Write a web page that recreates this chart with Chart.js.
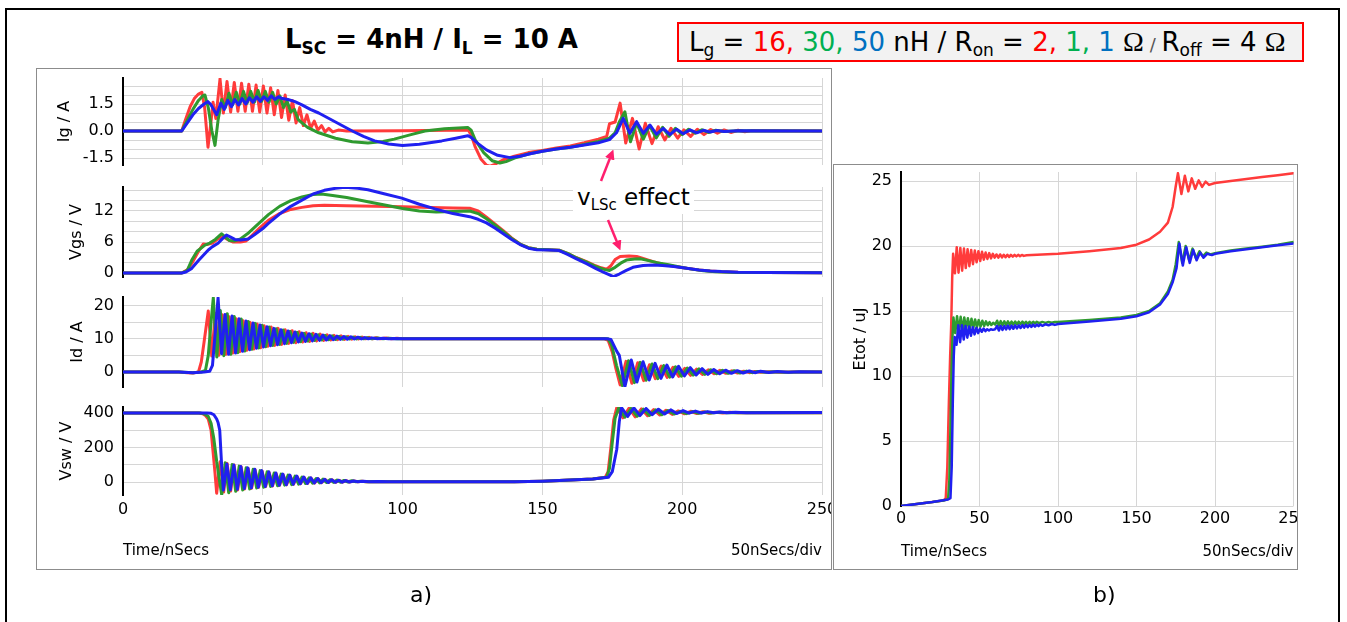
<!DOCTYPE html>
<html>
<head>
<meta charset="utf-8">
<script src="https://cdn.jsdelivr.net/npm/chart.js@4.4.1/dist/chart.umd.min.js"></script>
<style>
  body { margin: 0; background: #fff; width: 1347px; height: 622px; overflow: hidden; position: relative;
         font-family: 'DejaVu Sans', sans-serif; color: #000; }
  .abs { position: absolute; }
  #frame { left: 5px; top: 8px; width: 1331px; height: 640px; border: 2px solid #000; }
  .panel { position: absolute; border: 1px solid #8c8c8c; overflow: hidden; background: #fff; }
  #panelA { left: 36px; top: 68px; width: 794px; height: 500px; }
  #panelB { left: 833px; top: 164px; width: 463px; height: 404px; }
  canvas { position: absolute; }
  #title { left: 285px; top: 24px; font: bold 26px 'DejaVu Sans', sans-serif; white-space: nowrap; }
  #title .sub { font-size: 17px; position: relative; top: 6px; }
  #legend { left: 677px; top: 22px; width: 613px; height: 36px; border: 2px solid #ff0000; background: #f2f2f2;
            font: 26px 'DejaVu Sans', sans-serif; white-space: nowrap; line-height: 36px; padding-left: 10px; box-sizing: content-box; }
  #legend .sub { font-size: 17px; position: relative; top: 5px; }
  #legend .om { font-family: 'Liberation Serif', serif; font-size: 28px; }
  #legend .sl { font-size: 18px; color: #555; }
  .r { color: #ff0000; } .g { color: #00b050; } .b { color: #0070c0; }
  #vlsc { left: 573px; top: 183px; padding: 0 4px; background: #fff; font: 23px 'DejaVu Sans', sans-serif; white-space: nowrap; line-height: 28px; }
  #vlsc .sub { font-size: 15px; position: relative; top: 5px; }
  .plab { font: 22px 'DejaVu Sans', sans-serif; }
</style>
</head>
<body>
<div id="frame" class="abs"></div>
<div id="title" class="abs">L<span class="sub">SC</span> = 4nH / I<span class="sub">L</span> = 10 A</div>
<div id="legend" class="abs">L<span class="sub">g</span> = <span class="r">16,</span> <span class="g">30,</span> <span class="b">50</span> nH / R<span class="sub">on</span> = <span class="r">2,</span> <span class="g">1,</span> <span class="b">1</span> <span class="om">Ω</span><span class="sl"> / </span>R<span class="sub">off</span> = 4 <span class="om">Ω</span></div>
<div id="panelA" class="panel"></div>
<div id="panelB" class="panel"></div>
<div id="vlsc" class="abs">v<span class="sub">LSc</span> effect</div>
<svg class="abs" style="left:0;top:0" width="1347" height="622">
  <defs>
    <marker id="ah" markerWidth="4" markerHeight="4" refX="2.5" refY="2" orient="auto" markerUnits="strokeWidth">
      <path d="M0,0 L4,2 L0,4 z" fill="#ff1f6e"/>
    </marker>
  </defs>
  <line x1="601" y1="181" x2="612" y2="153" stroke="#ff1f6e" stroke-width="2.5" marker-end="url(#ah)"/>
  <line x1="608" y1="220" x2="619" y2="247" stroke="#ff1f6e" stroke-width="2.5" marker-end="url(#ah)"/>
</svg>
<div class="abs plab" style="left:410px;top:582px;">a)</div>
<div class="abs plab" style="left:1093px;top:582px;">b)</div>

<script>
// ---- time axis (ns) ----
const timeTicks = [0, 50, 100, 150, 200, 250];

// ---- gate current Ig / A : [t, value] ----
const igRed = [[0,0],[21,0],[22.5,0.7],[24,1.35],[25.5,1.8],[27,2.05],[28.2,2.15],[29.2,1.3],[30.4,-0.9],[31.4,0.4],[32.2,1.6],[33.2,0.7],[34.7,2.9],
  [35.9,1.0],[37.2,2.75],[38.5,1.05],[39.8,2.7],[41.1,1.1],[42.4,2.65],[43.7,1.1],[45,2.6],[46.3,1.1],[47.6,2.55],[48.9,1.05],[50.2,2.5],[51.5,1.0],
  [52.8,2.4],[54.1,0.9],[55.4,2.25],[56.7,0.75],[58,2.0],[59.3,0.6],[60.6,1.7],[61.9,0.45],[63.2,1.3],[64.5,0.3],[65.8,0.9],[67.1,0.15],[68.4,0.55],
  [69.7,0.05],[71,0.3],[72.3,-0.05],[73.6,0.15],[75,-0.05],[77,0.05],[80,0.0],[100,0.02],[123.5,0.05],
  [124.5,-0.2],[126,-0.9],[128,-1.55],[130,-1.9],[131.3,-1.95],[133,-1.85],[136,-1.6],[140,-1.4],[145,-1.2],[150,-1.08],[155,-0.95],[160,-0.83],
  [165,-0.65],[170,-0.45],[173,-0.3],[174,0.4],[176,0.5],[177.8,1.55],[179.8,-0.67],[182.2,0.7],[184.6,-1.0],[186.8,0.43],[189.2,-0.7],[191.4,0.24],
  [193.8,-0.5],[196,0.15],[198.4,-0.4],[200.6,0.06],[203,-0.3],[205.4,0.1],[207.8,-0.2],[210.2,0.08],[212.6,-0.12],[215,0.06],[217.4,-0.08],
  [220,0.04],[222.4,-0.04],[225,0.02],[250,0]];
const igGreen = [[0,0],[21,0],[23,0.6],[25,1.2],[27,1.7],[28.5,1.95],[29.3,2.0],[30.5,1.3],[31.8,0.0],[32.9,-0.8],[34,0.6],[35.3,1.75],[36.6,1.3],
  [37.9,2.1],[39.2,1.45],[40.5,2.15],[41.8,1.5],[43.1,2.2],[44.4,1.55],[45.7,2.2],[47,1.6],[48.3,2.25],[49.6,1.65],[50.9,2.2],[52.2,1.6],[53.5,2.15],
  [54.8,1.5],[56.1,1.95],[57.4,1.3],[58.7,1.65],[60,1.05],[61.3,1.2],[62.6,0.65],[64,0.45],[66,0.2],[70,-0.1],[76,-0.4],[82,-0.6],[87.6,-0.67],
  [93,-0.58],[97,-0.45],[103,-0.2],[108,0.0],[115,0.12],[123.3,0.2],
  [124.5,0.05],[126,-0.5],[129,-1.2],[132,-1.65],[134.8,-1.78],[137,-1.7],[140,-1.5],[145,-1.28],[150,-1.12],[155,-1.0],[160,-0.9],[165,-0.75],
  [170,-0.58],[174,-0.4],[176,-0.1],[177.5,0.5],[179.5,1.07],[181.5,-0.6],[183.7,0.45],[186.1,-0.45],[188.3,0.3],[190.7,-0.38],[193,0.2],
  [195.3,-0.3],[197.6,0.15],[200,-0.2],[202.3,0.1],[204.7,-0.12],[207,0.07],[209.4,-0.08],[212,0.04],[215,-0.03],[220,0.02],[250,0]];
const igBlue = [[0,0],[21,0],[23,0.45],[25,0.9],[27,1.25],[29,1.5],[30.4,1.63],[31.5,1.45],[33.5,0.9],[35,1.55],[36.2,1.2],[37.5,1.7],[38.8,1.35],
  [40,1.75],[41.3,1.45],[42.6,1.8],[43.9,1.5],[45.2,1.85],[46.5,1.6],[47.8,1.9],[49.1,1.65],[50.4,1.9],[51.7,1.7],[53,1.95],[54.3,1.75],[55.6,1.9],
  [57,1.8],[59,1.75],[61.5,1.63],[64,1.45],[67,1.2],[70,1.0],[73,0.75],[76,0.5],[79,0.25],[82,0.0],[86,-0.3],[90,-0.55],[95,-0.72],[100,-0.8],
  [106,-0.74],[114,-0.55],[119,-0.4],[123.3,-0.26],
  [124.5,-0.35],[127,-0.7],[130,-1.05],[134,-1.35],[138.4,-1.48],[142,-1.4],[146,-1.25],[150,-1.12],[155,-1.0],[160,-0.9],[165,-0.78],[170,-0.65],
  [174,-0.48],[176.5,-0.1],[178.9,0.7],[181.3,-0.13],[183.7,0.52],[186.1,-0.13],[188.5,0.33],[190.8,-0.18],[193.2,0.15],[195.6,-0.2],[198,0.1],
  [200.4,-0.15],[202.8,0.06],[205.2,-0.1],[207.6,0.04],[210,-0.06],[212.4,0.03],[215,-0.03],[220,0.01],[250,0]];

// ---- gate-source voltage Vgs / V ----
const vgsRed = [[0,0],[21,0],[23,0.6],[25,2.2],[27,4.2],[28.7,5.6],[30,5.5],[32,5.8],[34,6.6],[35.3,7.0],[36.5,6.8],[38,6.3],[39.4,6.0],[42,6.0],
  [44,6.2],[46,7.2],[49,8.8],[52,10.2],[56,11.5],[60,12.3],[64,12.7],[68,13.0],[72,13.1],[80,13.0],[90,12.9],[100,12.8],[110,12.7],[118,12.6],
  [124,12.55],[127,12.0],[130,10.8],[133,9.5],[136,8.2],[139,6.8],[142,5.6],[145,4.9],[148,4.6],[152,4.5],[156,4.4],[159,3.8],[162,3.0],
  [165.8,2.2],[169,1.4],[171,1.0],[173,0.75],[174.5,1.4],[176,2.6],[177.8,3.2],[181,3.3],[183.7,3.2],[186,2.8],[189.6,2.2],[193,1.7],[197,1.3],
  [201.6,0.9],[206,0.6],[210,0.4],[214,0.26],[220,0.15],[230,0.1],[250,0.05]];
const vgsGreen = [[0,0],[21,0],[23,0.5],[24.6,2.5],[26.5,4.2],[29.3,5.4],[31,5.8],[33,6.5],[35.3,7.6],[36.5,7.0],[38,6.3],[40,6.2],[42,6.6],
  [45,7.8],[48,9.3],[52,11.3],[56,12.9],[60,14.0],[64,14.7],[68,15.2],[71,15.3],[75,15.0],[80,14.6],[87.6,13.8],[95,13.0],[100,12.5],[106,12.0],
  [112,11.8],[118,11.9],[124,12.0],[127,11.5],[130,10.5],[133,9.3],[136,8.0],[139,6.7],[142,5.6],[145,4.9],[148,4.6],[152,4.5],[156,4.4],
  [159,3.8],[162,3.0],[165.8,2.1],[169,1.3],[172,0.7],[174,0.5],[176,1.1],[178,1.9],[180,2.5],[183,2.7],[185,2.75],[188,2.4],[191,2.0],
  [195.6,1.55],[200,1.05],[204,0.7],[207.6,0.45],[212,0.25],[220,0.12],[230,0.08],[250,0.05]];
const vgsBlue = [[0,0],[21,0],[22.5,0.2],[24.6,0.9],[27,2.4],[30.5,4.45],[32,5.1],[34,5.75],[35.5,6.6],[37,7.35],[38.3,7.0],[40,6.5],[42,6.4],
  [44.8,6.6],[47,7.4],[50,8.6],[52,9.6],[56,11.4],[60,12.9],[64,14.1],[68,15.3],[72,16.0],[76,16.4],[79.4,16.6],[84,16.4],[87.6,16.1],[93,15.4],
  [99.7,14.5],[106,13.3],[111.6,12.4],[118,11.5],[124,10.9],[127,10.4],[130,9.7],[133,8.7],[136,7.6],[139,6.5],[142,5.5],[145,4.8],[148,4.5],
  [152,4.45],[156,4.35],[159,3.6],[162,2.8],[165.8,1.8],[169,0.9],[172,0.1],[175.4,-0.7],[177.5,-0.2],[180,0.5],[182.4,1.1],[186,1.45],
  [189.6,1.55],[193,1.45],[197,1.25],[201.6,0.9],[206,0.6],[210,0.4],[214,0.27],[220,0.15],[230,0.08],[250,0.05]];

// ---- drain current Id / A ----
const idRed = [[0,0],[20,0],[23,-0.2],[25,-0.3],[27,0],[28,3],[29,9],[30.5,18.3],[31.75,4.8],[33,17.6],[34.25,5.0],[35.5,17.2],[36.75,5.3],
  [38,16.6],[39.25,5.7],[40.5,16.0],[41.75,6.1],[43,15.4],[44.25,6.5],[45.5,14.9],[46.75,6.9],[48,14.4],[49.25,7.3],[50.5,13.9],[51.75,7.7],
  [53,13.5],[54.25,8.0],[55.5,13.1],[56.75,8.3],[58,12.7],[59.25,8.6],[60.5,12.4],[61.75,8.8],[63,12.1],[64.25,9.0],[65.5,11.8],[66.75,9.2],
  [68,11.6],[69.25,9.35],[70.5,11.4],[71.75,9.5],[73,11.2],[74.25,9.6],[75.5,11.0],[76.75,9.7],[78,10.85],[79.25,9.8],[80.5,10.7],[81.75,9.85],
  [83,10.6],[84.25,9.9],[85.5,10.5],[86.75,9.95],[88,10.4],[89.25,9.97],[90.5,10.3],[92,10.0],[94,10.2],[96,10.0],[98,10.1],[100,10],[172,10],
  [173.5,9.5],[175,6],[176.3,1],[177.8,-3.9],[179.9,3.2],[182,-3.4],[184.1,2.8],[186.2,-2.6],[188.3,2.2],[190.4,-2.0],[192.5,1.8],[194.6,-1.6],
  [196.7,1.4],[198.8,-1.3],[200.9,1.1],[203,-1.0],[205.1,0.85],[207.2,-0.75],[209.3,0.65],[211.4,-0.55],[213.5,0.5],[215.6,-0.4],[217.7,0.35],
  [219.8,-0.3],[222,0.25],[224,-0.2],[226,0.15],[228,-0.1],[231,0.08],[235,-0.05],[240,0.03],[250,0]];
const idGreen = [[0,0],[20,0],[25,-0.2],[28,0],[29.5,0.5],[30.5,5],[31.5,15],[32.3,22.3],[33.55,4.5],[34.8,18.5],[36.05,4.9],[37.3,17.5],
  [38.55,5.3],[39.8,16.7],[41.05,5.8],[42.3,15.9],[43.55,6.3],[44.8,15.2],[46.05,6.8],[47.3,14.6],[48.55,7.2],[49.8,14.0],[51.05,7.6],[52.3,13.5],
  [53.55,8.0],[54.8,13.0],[56.05,8.3],[57.3,12.6],[58.55,8.6],[59.8,12.2],[61.05,8.9],[62.3,11.9],[63.55,9.1],[64.8,11.6],[66.05,9.3],[67.3,11.4],
  [68.55,9.45],[69.8,11.2],[71.05,9.6],[72.3,11.0],[73.55,9.7],[74.8,10.85],[76.05,9.8],[77.3,10.7],[78.55,9.85],[79.8,10.6],[81.05,9.9],
  [82.3,10.5],[83.55,9.93],[84.8,10.4],[86.05,9.95],[87.3,10.3],[89,9.97],[91,10.2],[93,10.0],[95,10.1],[98,10],[173,10],
  [173.5,10],[174.8,8],[176.5,2],[178.6,-4.1],[180.8,3.4],[182.9,-3.2],[185,2.9],[187.1,-2.5],[189.2,2.4],[191.3,-2.0],[193.4,1.9],[195.5,-1.55],
  [197.6,1.55],[199.7,-1.25],[201.8,1.2],[203.9,-0.95],[206,0.95],[208.1,-0.72],[210.2,0.7],[212.3,-0.53],[214.4,0.52],[216.5,-0.4],[218.6,0.4],
  [220.7,-0.3],[223,0.28],[225,-0.2],[227,0.18],[230,-0.1],[233,0.1],[237,-0.05],[242,0.03],[250,0]];
const idBlue = [[0,0],[20,0],[25,-0.2],[29,0],[31,0.2],[32,2],[33,12],[34,22.3],[35.25,5.5],[36.5,17.3],[37.75,5.3],[39,16.8],[40.25,5.7],
  [41.5,16.0],[42.75,6.2],[44,15.3],[45.25,6.7],[46.5,14.7],[47.75,7.1],[49,14.1],[50.25,7.5],[51.5,13.6],[52.75,7.9],[54,13.1],[55.25,8.2],
  [56.5,12.7],[57.75,8.5],[59,12.3],[60.25,8.8],[61.5,12.0],[62.75,9.0],[64,11.7],[65.25,9.2],[66.5,11.5],[67.75,9.35],[69,11.3],[70.25,9.5],
  [71.5,11.1],[72.75,9.6],[74,10.9],[75.25,9.7],[76.5,10.75],[77.75,9.8],[79,10.65],[80.25,9.85],[81.5,10.55],[82.75,9.9],[84,10.45],[85.25,9.93],
  [86.5,10.35],[87.75,9.95],[89,10.25],[91,10.0],[93,10.15],[95,10.0],[97,10.08],[100,10],[173,10],
  [174.5,9.8],[176.6,6.2],[177.5,5],[179.5,-4.4],[181.8,3.6],[183.8,-3.0],[186,3.1],[188.2,-2.4],[190.3,2.6],[192.4,-1.9],[194.5,2.1],[196.6,-1.5],
  [198.7,1.7],[200.8,-1.2],[202.9,1.3],[205,-0.9],[207.1,1.0],[209.2,-0.7],[211.3,0.75],[213.4,-0.5],[215.5,0.55],[217.6,-0.4],[219.7,0.4],
  [221.8,-0.3],[224,0.3],[226,-0.2],[228,0.2],[231,-0.12],[234,0.12],[238,-0.06],[242,0.05],[250,0]];

// ---- switch-node voltage Vsw / V ----
const vswRed = [[0,400],[27,400],[28.5,396],[29.5,385],[30.5,365],[31.5,300],[32.3,160],[32.9,53],[33.5,-65],[34.75,118],[36,-58],[37.25,108],
  [38.5,-52],[39.75,98],[41,-46],[42.25,88],[43.5,-41],[44.75,79],[46,-36],[47.25,71],[48.5,-31],[49.75,63],[51,-27],[52.25,56],[53.5,-23],
  [54.75,49],[56,-19],[57.25,43],[58.5,-16],[59.75,37],[61,-13],[62.25,32],[63.5,-10],[64.75,27],[66,-8],[67.25,23],[68.5,-6],[69.75,19],
  [71,-4],[72.25,16],[73.5,-3],[74.75,13],[76,-2],[77.25,10],[78.5,-1],[79.75,8],[81,0],[82.5,6],[84,1],[85.5,4],[87,1.5],[89,3],[92,2],
  [100,1],[130,1],[140,2],[150,5],[160,11],[168,18],[172.5,28],
  [173.5,60],[174.5,200],[175.5,360],[176.6,431],[178.8,372],[181,428],[183.2,378],[185.4,424],[187.6,384],[189.8,420],[192,388],[194.2,416],
  [196.4,392],[198.6,412],[200.8,395],[203,410],[205.2,397],[207.4,407],[209.6,399],[212,405],[214.5,400],[217,404],[220,401],[225,403],[250,402]];
const vswGreen = [[0,400],[27.5,400],[29,396],[30.5,380],[31.5,340],[32.5,250],[33.5,120],[34.5,10],[35.3,-74],[36.55,112],[37.8,-62],
  [39.05,102],[40.3,-54],[41.55,92],[42.8,-47],[44.05,83],[45.3,-41],[46.55,74],[47.8,-35],[49.05,66],[50.3,-30],[51.55,59],[52.8,-26],[54.05,52],
  [55.3,-22],[56.55,46],[57.8,-18],[59.05,40],[60.3,-15],[61.55,34],[62.8,-12],[64.05,29],[65.3,-9],[66.55,24],[67.8,-7],[69.05,20],[70.3,-5],
  [71.55,17],[72.8,-3],[74.05,14],[75.3,-2],[76.55,11],[77.8,-1],[79.05,9],[80.3,0],[81.8,7],[83.3,1],[85,5],[87,2],[90,3],[95,1.5],[130,1],
  [140,2],[150,5],[160,11],[168,18],[173,27],
  [174,80],[175,230],[176,370],[177.3,430],[179.5,376],[181.7,426],[183.9,381],[186.1,422],[188.3,386],[190.5,418],[192.7,390],[194.9,414],
  [197.1,394],[199.3,410],[201.5,396],[203.7,408],[205.9,398],[208.1,406],[210.3,400],[213,404],[216,401],[220,403],[250,402]];
const vswBlue = [[0,400],[30,400],[31.5,398],[32.5,390],[33.5,365],[34,345],[34.6,300],[35.3,90],[35.9,-47],[37.15,105],[38.4,-45],[39.65,98],
  [40.9,-42],[42.15,90],[43.4,-38],[44.65,82],[45.9,-34],[47.15,74],[48.4,-30],[49.65,66],[50.9,-26],[52.15,59],[53.4,-22],[54.65,52],[55.9,-19],
  [57.15,46],[58.4,-16],[59.65,40],[60.9,-13],[62.15,34],[63.4,-10],[64.65,29],[65.9,-8],[67.15,24],[68.4,-6],[69.65,20],[70.9,-4],[72.15,16],
  [73.4,-3],[74.65,13],[75.9,-2],[77.15,10],[78.4,-1],[79.65,8],[81,0],[82.5,6],[84,1],[86,4],[88,1.5],[91,2.5],[95,1],[130,1],[140,2],[150,5],
  [160,11],[168,18],[173.6,27],
  [175,60],[176.6,190],[177.5,350],[178.3,431],[180.5,380],[182.7,430],[184.9,385],[187.1,426],[189.3,390],[191.5,422],[193.7,394],[195.9,418],
  [198.1,397],[200.3,414],[202.5,399],[204.7,411],[206.9,400],[209.1,408],[211.3,401],[213.5,406],[216,402],[219,405],[223,402],[250,403]];

// ---- total switching energy Etot / uJ ----
const etotRed = [[0,0],[10,0.15],[20,0.3],[27,0.42],[28.5,0.6],[29.5,3],[30.5,8],[31.3,11.5],[32,14],[32.6,17.5],[33.2,19.4],[34.35,17.9],
  [35.5,19.9],[36.65,17.95],[37.8,19.85],[38.95,18.1],[40.1,19.8],[41.25,18.3],[42.4,19.75],[43.55,18.45],[44.7,19.7],[45.85,18.6],[47,19.65],
  [48.15,18.75],[49.3,19.6],[50.45,18.85],[51.6,19.55],[52.75,18.95],[53.9,19.5],[55.05,19.0],[56.2,19.45],[57.35,19.05],[58.5,19.4],[59.65,19.1],
  [60.8,19.35],[62,19.1],[63.15,19.35],[64.3,19.12],[65.45,19.33],[66.6,19.14],[67.75,19.33],[68.9,19.16],[70,19.32],[71.2,19.18],[72.35,19.32],
  [73.5,19.2],[74.65,19.32],[75.8,19.22],[77,19.31],[78.2,19.24],[80,19.29],[100,19.4],[120,19.6],[140,19.85],[150,20.1],[158,20.5],[165,21.1],
  [170,21.8],[173,23.0],[175,24.6],[176.4,25.6],[178.6,24.0],[180.8,25.4],[183,24.2],[185.2,25.2],[187.4,24.4],[189.6,25.05],[191.8,24.55],
  [194,24.95],[196.2,24.7],[200,24.85],[210,25.0],[220,25.15],[230,25.3],[240,25.45],[250,25.6]];
const etotGreen = [[0,0],[10,0.15],[20,0.3],[28,0.45],[30,0.55],[30.8,2],[31.5,6],[32.2,10.5],[32.8,13.0],[33.4,14.5],[34.55,13.3],[35.7,14.6],
  [36.85,13.4],[38,14.55],[39.15,13.5],[40.3,14.5],[41.45,13.6],[42.6,14.45],[43.75,13.65],[44.9,14.4],[46.05,13.7],[47.2,14.35],[48.35,13.75],
  [49.5,14.3],[50.65,13.8],[51.8,14.25],[52.95,13.85],[54.1,14.2],[55.25,13.9],[56.4,14.15],[57.55,13.92],[58.7,14.1],[60,13.95],[61.2,14.25],
  [62.35,13.88],[63.5,14.22],[64.65,13.9],[65.8,14.2],[66.95,13.92],[68.1,14.2],[69.25,13.94],[70.4,14.19],[71.55,13.96],[72.7,14.19],
  [73.85,13.98],[75,14.18],[76.15,14.0],[77.3,14.18],[78.45,14.01],[79.6,14.17],[80.75,14.02],[81.9,14.17],[83.05,14.04],[84.2,14.17],
  [85.35,14.05],[86.5,14.17],[88,14.07],[90,14.16],[92,14.09],[94,14.16],[96,14.1],[98,14.16],[100,14.15],[120,14.3],[140,14.5],[150,14.7],
  [158,15.0],[165,15.6],[170,16.5],[173,17.4],[175,18.6],[176.9,20.3],[179.1,18.7],[181.3,20.0],[183.5,18.9],[185.7,19.8],[187.9,19.05],
  [190.1,19.6],[192.3,19.2],[194.5,19.5],[197,19.35],[200,19.45],[210,19.65],[220,19.8],[230,19.95],[240,20.1],[250,20.3]];
const etotBlue = [[0,0],[10,0.15],[20,0.3],[30,0.5],[31.5,0.6],[32.3,3],[33,8],[33.6,11.5],[34.2,13.0],[35.35,12.4],[36.5,13.9],[37.65,12.6],
  [38.8,13.9],[39.95,12.8],[41.1,13.85],[42.25,12.95],[43.4,13.8],[44.55,13.1],[45.7,13.75],[46.85,13.2],[48,13.7],[49.15,13.3],[50.3,13.65],
  [51.45,13.4],[52.6,13.65],[53.75,13.45],[54.9,13.6],[56.05,13.5],[57.2,13.6],[58.5,13.55],[60,13.6],[61.2,13.85],[62.35,13.5],[63.5,13.85],
  [64.65,13.55],[65.8,13.85],[66.95,13.58],[68.1,13.88],[69.25,13.6],[70.4,13.88],[71.55,13.63],[72.7,13.9],[73.85,13.66],[75,13.9],
  [76.15,13.69],[77.3,13.92],[78.45,13.72],[79.6,13.93],[80.75,13.75],[81.9,13.94],[83.05,13.78],[84.2,13.95],[85.35,13.8],[86.5,13.96],
  [87.65,13.83],[88.8,13.97],[90,13.86],[92,13.98],[94,13.9],[96,14.0],[98,13.93],[100,14.0],[120,14.2],[140,14.4],[150,14.6],[158,14.9],
  [165,15.5],[170,16.3],[173,17.2],[175.5,18.3],[177.3,20.2],[179.5,18.5],[181.7,19.9],[183.9,18.7],[186.1,19.7],[188.3,18.9],[190.5,19.5],
  [192.7,19.1],[195,19.4],[198,19.3],[200,19.4],[210,19.6],[220,19.75],[230,19.9],[240,20.05],[250,20.2]];

// ---- y-axis grid and labelled values ----
const igGrid = [-1.5, -1, -0.5, 0, 0.5, 1, 1.5, 2, 2.5];
const igLabels = [-1.5, 0, 1.5];
const vgsGrid = [0, 2, 4, 6, 8, 10, 12, 14, 16];
const vgsLabels = [0, 6, 12];
const idGrid = [0, 5, 10, 15, 20];
const idLabels = [0, 10, 20];
const vswGrid = [0, 100, 200, 300, 400];
const vswLabels = [0, 200, 400];
const etotGrid = [0, 5, 10, 15, 20, 25];
const etotLabels = [0, 5, 10, 15, 20, 25];

// ---- drawing ----
const FONT_FAMILY = "'DejaVu Sans', sans-serif";
const AXIS_FONT = { family: FONT_FAMILY, size: 16 };
const GRID_COLOR = '#d6d6d6';
const COLORS = ['#ff3b3b', '#2f9a2f', '#2020f0'];
const PAD = 30;

const cornerLabels = {
  id: 'cornerLabels',
  afterDraw(chart, args, opts) {
    if (!opts.show) return;
    const { ctx, chartArea } = chart;
    ctx.save();
    ctx.font = `15px ${FONT_FAMILY}`;
    ctx.fillStyle = '#000';
    ctx.textBaseline = 'middle';
    ctx.textAlign = 'left';
    ctx.fillText('Time/nSecs', chartArea.left, chartArea.bottom + opts.offset);
    ctx.textAlign = 'right';
    ctx.fillText('50nSecs/div', chartArea.right, chartArea.bottom + opts.offset);
    ctx.restore();
  }
};

function waveChart(host, origin, cfg) {
  const yAxisW = cfg.area.left - origin.left;
  const xAxisH = cfg.showX ? cfg.xAxisH : 0;
  const bottomPad = cfg.bottomPad || PAD;
  const w = Math.round(yAxisW + (cfg.area.right - cfg.area.left) + PAD);
  const h = Math.round(PAD + (cfg.area.bottom - cfg.area.top) + xAxisH + bottomPad);
  const canvas = document.createElement('canvas');
  canvas.width = w; canvas.height = h;
  canvas.style.width = w + 'px'; canvas.style.height = h + 'px';
  canvas.style.left = '0px';
  canvas.style.top = (cfg.area.top - PAD - origin.top) + 'px';
  host.appendChild(canvas);

  // red underneath, then green, blue on top
  const datasets = cfg.series.map((pts, i) => ({
    data: pts, borderColor: COLORS[i], backgroundColor: COLORS[i], order: 3 - i,
    borderWidth: cfg.lineWidth || 3, pointRadius: 0, tension: 0, fill: false,
    borderJoinStyle: 'round', borderCapStyle: 'round'
  }));

  new Chart(canvas, {
    type: 'line',
    data: { datasets },
    options: {
      responsive: false, animation: false, devicePixelRatio: 1,
      layout: { padding: { left: 0, top: PAD, right: w - yAxisW - (cfg.area.right - cfg.area.left), bottom: bottomPad } },
      plugins: { legend: { display: false }, tooltip: { enabled: false }, cornerLabels: cfg.corner || { show: false } },
      scales: {
        x: {
          type: 'linear', min: 0, max: 250,
          afterBuildTicks: s => { s.ticks = timeTicks.map(v => ({ value: v })); },
          grid: { color: GRID_COLOR, lineWidth: 1, drawTicks: false },
          border: { display: false },
          ticks: { display: !!cfg.showX, padding: cfg.xPad || 5, font: AXIS_FONT, color: '#000', maxRotation: 0, autoSkip: false },
          afterFit: s => { s.height = xAxisH; }
        },
        y: {
          type: 'linear', min: cfg.yMin, max: cfg.yMax,
          afterBuildTicks: s => { s.ticks = cfg.grid.map(v => ({ value: v })); },
          grid: { color: GRID_COLOR, lineWidth: 1, drawTicks: false },
          border: { display: true, color: '#000', width: 2 },
          ticks: {
            padding: 9, font: AXIS_FONT, color: '#000', autoSkip: false,
            callback: v => cfg.labels.includes(v) ? cfg.fmt(v) : ''
          },
          title: { display: true, text: cfg.title, font: AXIS_FONT, color: '#000', padding: { top: cfg.titlePad, bottom: 0 } },
          afterFit: s => { s.width = yAxisW; }
        }
      }
    },
    plugins: [cornerLabels]
  });
}

const panelA = document.getElementById('panelA');
const panelB = document.getElementById('panelB');
const originA = { left: 37, top: 69 };
const originB = { left: 834, top: 165 };
const intFmt = v => String(v);

waveChart(panelA, originA, {
  area: { left: 123, right: 822, top: 78, bottom: 165 },
  yMin: -34 / 18, yMax: 53 / 18, grid: igGrid, labels: igLabels, fmt: v => v.toFixed(1),
  title: 'Ig / A', titlePad: 18, series: [igRed, igGreen, igBlue]
});
waveChart(panelA, originA, {
  area: { left: 123, right: 822, top: 187, bottom: 277 },
  yMin: -4 * 6 / 31, yMax: 86 * 6 / 31, grid: vgsGrid, labels: vgsLabels, fmt: intFmt,
  title: 'Vgs / V', titlePad: 30, series: [vgsRed, vgsGreen, vgsBlue]
});
waveChart(panelA, originA, {
  area: { left: 123, right: 822, top: 297, bottom: 387 },
  yMin: -15 / 3.33, yMax: 75 / 3.33, grid: idGrid, labels: idLabels, fmt: intFmt,
  title: 'Id / A', titlePad: 31, series: [idRed, idGreen, idBlue]
});
waveChart(panelA, originA, {
  area: { left: 123, right: 822, top: 407, bottom: 495 },
  yMin: -13 * 400 / 69, yMax: 75 * 400 / 69, grid: vswGrid, labels: vswLabels, fmt: intFmt,
  title: 'Vsw / V', titlePad: 20, series: [vswRed, vswGreen, vswBlue],
  showX: true, xAxisH: 24, xPad: 5, bottomPad: 80,
  corner: { show: true, offset: 56 }
});
waveChart(panelB, originB, {
  area: { left: 901, right: 1293.5, top: 172, bottom: 506 },
  yMin: 0, yMax: 334 / 13, grid: etotGrid, labels: etotLabels, fmt: intFmt,
  title: 'Etot / uJ', titlePad: 17, series: [etotRed, etotGreen, etotBlue], lineWidth: 2.5,
  showX: true, xAxisH: 20, xPad: 3, bottomPad: 70,
  corner: { show: true, offset: 46.5 }
});
</script>
</body>
</html>
